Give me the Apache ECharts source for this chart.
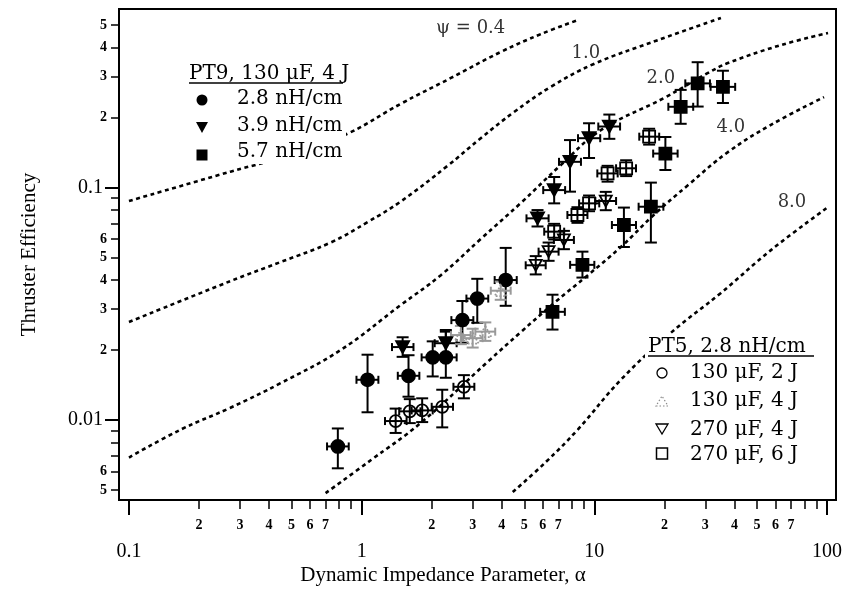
<!DOCTYPE html>
<html>
<head>
<meta charset="utf-8">
<script src="https://cdn.jsdelivr.net/npm/echarts@6/dist/echarts.min.js"></script>
<style>
html,body{margin:0;padding:0;background:#fff}
#main{width:850px;height:590px}
</style>
</head>
<body>
<div id="main"></div>
<script>
// axis ranges (log scales)
var xMin = 0.0906, xMax = 109.3;
var yMin = 0.00453, yMax = 0.586;

// tick values
var xMajor = [0.1, 1, 10, 100];
var xMinor = [0.2,0.3,0.4,0.5,0.6,0.7,0.8,0.9, 2,3,4,5,6,7,8,9, 20,30,40,50,60,70,80,90];
var xMinorLabels = [0.2,0.3,0.4,0.5,0.6,0.7, 2,3,4,5,6,7, 20,30,40,50,60,70];
var yMajor = [0.01, 0.1];
var yMinor = [0.005,0.006,0.007,0.008,0.009, 0.02,0.03,0.04,0.05,0.06,0.07,0.08,0.09, 0.2,0.3,0.4,0.5];
var yMinorLabels = [0.005,0.006, 0.02,0.03,0.04,0.05,0.06, 0.2,0.3,0.4,0.5];

// theoretical curves  [alpha, efficiency]
var psi04 = [[0.1,0.0875],[0.273,0.117],[0.547,0.142],[0.897,0.173],[1.47,0.229],[2.42,0.296],[3.96,0.383],[5.89,0.457],[8.49,0.525]];
var psi10 = [[0.1,0.0264],[0.273,0.0396],[0.448,0.0478],[0.736,0.0580],[1.06,0.0710],[1.47,0.0870],[2.34,0.124],[3.25,0.163],[4.51,0.211],[6.5,0.271],[9.95,0.340],[18.8,0.431],[35,0.536]];
var psi20 = [[0.1,0.0069],[0.167,0.0091],[0.273,0.0113],[0.448,0.0144],[0.812,0.020],[1.47,0.0312],[2.19,0.042],[3.25,0.0601],[4.83,0.0858],[7.18,0.125],[10.7,0.177],[19.9,0.2425],[30.8,0.311],[37.5,0.343],[63.4,0.41],[101,0.462]];
var psi40 = [[0.70,0.00485],[1.09,0.0067],[1.79,0.0097],[3.48,0.0178],[4.83,0.0239],[6.70,0.0318],[9.38,0.042],[13.0,0.0555],[18.0,0.0762],[25.3,0.1025],[37.5,0.142],[57.4,0.186],[97.1,0.245]];
var psi80 = [[4.46,0.0049],[6.19,0.0066],[8.49,0.0091],[13.0,0.0149],[21.3,0.0237],[35.0,0.0352],[57.4,0.0538],[101,0.0824]];
var psiLabels = [['\u03c8 = 0.4', 2.94, 0.485], ['1.0', 9.19, 0.379], ['2.0', 19.3, 0.296], ['4.0', 38.6, 0.182], ['8.0', 70.7, 0.0867]];

// measured points [alpha, eff, alphaLo, alphaHi, effLo, effHi]
var pt9_28 = [
  [0.79,0.0077, 0.71,0.88, 0.0062,0.0092],
  [1.06,0.0149, 0.95,1.18, 0.0108,0.0191],
  [1.59,0.0155, 1.43,1.77, 0.0126,0.0190],
  [2.02,0.0186, 1.81,2.25, 0.0154,0.0218],
  [2.30,0.0186, 2.06,2.56, 0.0152,0.0240],
  [2.71,0.0269, 2.43,3.02, 0.0215,0.0325],
  [3.14,0.0333, 2.82,3.50, 0.0262,0.0405],
  [4.16,0.0400, 3.73,4.64, 0.0310,0.0550]
];
var pt9_39 = [
  [1.50,0.0206, 1.35,1.67, 0.0187,0.0227],
  [2.30,0.0214, 2.06,2.56, 0.0190,0.0244],
  [5.70,0.0737, 5.11,6.36, 0.0680,0.0800],
  [6.72,0.0975, 6.03,7.49, 0.0855,0.1110],
  [7.86,0.129, 7.05,8.76, 0.096,0.160],
  [9.49,0.163, 8.51,10.6, 0.134,0.189],
  [11.6,0.183, 10.4,12.9, 0.162,0.206]
];
var pt9_57 = [
  [6.61,0.0292, 5.85,7.47, 0.0245,0.0346],
  [8.89,0.0465, 7.87,10.0, 0.041,0.053],
  [13.4,0.069, 11.9,15.1, 0.0555,0.082],
  [17.5,0.0827, 15.5,19.8, 0.058,0.105],
  [20.2,0.140, 17.9,22.8, 0.119,0.165],
  [23.5,0.2225, 20.8,26.6, 0.188,0.263],
  [27.8,0.2805, 24.6,31.4, 0.223,0.346],
  [35.7,0.271, 31.6,40.3, 0.231,0.318]
];
var pt5_130_2 = [
  [1.40,0.0099, 1.26,1.56, 0.0088,0.0112],
  [1.61,0.0109, 1.45,1.79, 0.0097,0.0123],
  [1.82,0.0110, 1.64,2.02, 0.0098,0.0124],
  [2.22,0.0114, 2.00,2.47, 0.0093,0.0135],
  [2.75,0.0139, 2.48,3.05, 0.0124,0.0156]
];
var pt5_130_4 = [
  [2.67,0.0232, 2.42,2.94, 0.0212,0.0254],
  [3.00,0.0225, 2.72,3.31, 0.0205,0.0247],
  [3.40,0.0240, 3.08,3.75, 0.0219,0.0263],
  [3.96,0.0360, 3.59,4.37, 0.0329,0.0394]
];
var pt5_270_4 = [
  [5.60,0.0463, 5.07,6.18, 0.0423,0.0507],
  [6.36,0.0530, 5.76,7.02, 0.0484,0.0580],
  [7.40,0.0595, 6.70,8.17, 0.0543,0.0651],
  [11.2,0.0875, 10.1,12.4, 0.0799,0.0958]
];
var pt5_270_6 = [
  [6.72,0.0646, 6.09,7.42, 0.0598,0.0698],
  [8.46,0.0762, 7.66,9.34, 0.0705,0.0823],
  [9.49,0.0855, 8.60,10.5, 0.0791,0.0924],
  [11.4,0.115, 10.3,12.6, 0.106,0.124],
  [13.7,0.121, 12.4,15.1, 0.112,0.131],
  [17.2,0.1655, 15.6,19.0, 0.153,0.179]
];

var serif = '"Liberation Serif", serif';
var wide = '"DejaVu Serif", serif';

function digitLabel(v) {
  var e = Math.floor(Math.log10(v) + 1e-9);
  return String(Math.round(v / Math.pow(10, e)));
}

function errBars(color) {
  return function (params, api) {
    var c = api.coord([api.value(0), api.value(1)]);
    var xl = api.coord([api.value(2), api.value(1)]);
    var xh = api.coord([api.value(3), api.value(1)]);
    var yl = api.coord([api.value(0), api.value(4)]);
    var yh = api.coord([api.value(0), api.value(5)]);
    var st = { stroke: color, lineWidth: 2 };
    var cw = 6, ch = 4;
    return {
      type: 'group',
      children: [
        { type: 'line', shape: { x1: c[0], y1: yl[1], x2: c[0], y2: yh[1] }, style: st },
        { type: 'line', shape: { x1: c[0] - cw, y1: yl[1], x2: c[0] + cw, y2: yl[1] }, style: st },
        { type: 'line', shape: { x1: c[0] - cw, y1: yh[1], x2: c[0] + cw, y2: yh[1] }, style: st },
        { type: 'line', shape: { x1: xl[0], y1: c[1], x2: xh[0], y2: c[1] }, style: st },
        { type: 'line', shape: { x1: xl[0], y1: c[1] - ch, x2: xl[0], y2: c[1] + ch }, style: st },
        { type: 'line', shape: { x1: xh[0], y1: c[1] - ch, x2: xh[0], y2: c[1] + ch }, style: st }
      ]
    };
  };
}

function errSeries(data, color) {
  return {
    type: 'custom', xAxisIndex: 0, yAxisIndex: 0, z: 3,
    renderItem: errBars(color),
    encode: { x: [0, 2, 3], y: [1, 4, 5] },
    data: data, silent: true
  };
}

function curve(data) {
  return {
    type: 'line', xAxisIndex: 0, yAxisIndex: 0, data: data, symbol: 'none', smooth: 0.4,
    lineStyle: { color: '#000', width: 2.6, type: [4, 3.5] }, z: 2, silent: true
  };
}

var triDown = 'path://M0,0 L10,0 L5,9 Z';

function pts(data, symbol, size, fill, border, dotted) {
  return {
    type: 'scatter', xAxisIndex: 0, yAxisIndex: 0, data: data.map(function (d) { return [d[0], d[1]]; }),
    symbol: symbol, symbolSize: size, z: 4, silent: true,
    itemStyle: { color: fill, borderColor: border, borderWidth: 1.8, borderType: dotted ? 'dotted' : 'solid', opacity: 1 }
  };
}

var myChart = echarts.init(document.getElementById('main'));

var axisCommonX = { type: 'log', logBase: 10, min: xMin, max: xMax, position: 'bottom', splitLine: { show: false }, axisLine: { show: false } };
var axisCommonY = { type: 'log', logBase: 10, min: yMin, max: yMax, position: 'left', splitLine: { show: false }, axisLine: { show: false } };

function txt(s, x, y, font) {
  return { type: 'text', x: x, y: y, z: 20, style: { text: s, font: font, fill: '#000', verticalAlign: 'middle' } };
}

var legFont = '20px ' + wide;
var graphics = [
  // white boxes behind the legends hide the curves
  { type: 'rect', z: 10, shape: { x: 186, y: 62, width: 160, height: 102 }, style: { fill: '#fff' } },
  { type: 'rect', z: 10, shape: { x: 645, y: 334, width: 172, height: 132 }, style: { fill: '#fff' } },
  // left legend
  txt('PT9, 130 \u03bcF, 4 J', 189, 74, legFont),
  { type: 'line', z: 20, shape: { x1: 189, y1: 83, x2: 343, y2: 83 }, style: { stroke: '#000', lineWidth: 1.3 } },
  { type: 'circle', z: 20, shape: { cx: 202, cy: 100, r: 5.5 }, style: { fill: '#000' } },
  { type: 'polygon', z: 20, shape: { points: [[196, 122], [208, 122], [202, 133]] }, style: { fill: '#000' } },
  { type: 'rect', z: 20, shape: { x: 196.5, y: 149.5, width: 11, height: 11 }, style: { fill: '#000' } },
  txt('2.8 nH/cm', 237, 99, legFont),
  txt('3.9 nH/cm', 237, 126, legFont),
  txt('5.7 nH/cm', 237, 152, legFont),
  // right legend
  txt('PT5, 2.8 nH/cm', 648, 347, legFont),
  { type: 'line', z: 20, shape: { x1: 648, y1: 356, x2: 814, y2: 356 }, style: { stroke: '#000', lineWidth: 1.3 } },
  { type: 'circle', z: 20, shape: { cx: 662, cy: 373, r: 5 }, style: { fill: 'none', stroke: '#000', lineWidth: 1.3 } },
  { type: 'polygon', z: 20, shape: { points: [[656, 406], [668, 406], [662, 396]] }, style: { fill: 'none', stroke: '#888', lineWidth: 1.2, lineDash: [1.5, 2] } },
  { type: 'polygon', z: 20, shape: { points: [[656, 424], [668, 424], [662, 434]] }, style: { fill: 'none', stroke: '#000', lineWidth: 1.3 } },
  { type: 'rect', z: 20, shape: { x: 656.5, y: 448, width: 11, height: 11 }, style: { fill: 'none', stroke: '#000', lineWidth: 1.5 } },
  txt('130 \u03bcF, 2 J', 690, 373, legFont),
  txt('130 \u03bcF, 4 J', 690, 401, legFont),
  txt('270 \u03bcF, 4 J', 690, 430, legFont),
  txt('270 \u03bcF, 6 J', 690, 455, legFont),
  // x axis title
  { type: 'text', x: 443, y: 575, style: { text: 'Dynamic Impedance Parameter, \u03b1', font: '21px ' + serif, fill: '#000', align: 'center', verticalAlign: 'middle' } }
];

var option = {
  backgroundColor: '#fff',
  animation: false,
  grid: { left: 119, right: 14, top: 9, bottom: 90, show: true, borderColor: '#000', borderWidth: 2, backgroundColor: 'transparent' },
  xAxis: [
    Object.assign({}, axisCommonX, {
      axisTick: { show: true, customValues: xMinor, length: 9, lineStyle: { color: '#000', width: 1.5 } },
      axisLabel: { customValues: xMinorLabels, formatter: digitLabel, fontFamily: serif, fontSize: 14, fontWeight: 'bold', color: '#000', margin: 18 }
    }),
    Object.assign({}, axisCommonX, {
      axisTick: { show: true, customValues: xMajor, length: 15, lineStyle: { color: '#000', width: 2 } },
      axisLabel: { customValues: xMajor, formatter: function (v) { return String(v); }, fontFamily: serif, fontSize: 20, color: '#000', margin: 42 }
    })
  ],
  yAxis: [
    Object.assign({}, axisCommonY, {
      name: 'Thruster Efficiency', nameLocation: 'middle', nameGap: 79, nameRotate: 90,
      nameTextStyle: { fontFamily: serif, fontSize: 21, color: '#000' },
      axisTick: { show: true, customValues: yMinor, length: 8, lineStyle: { color: '#000', width: 1.5 } },
      axisLabel: { customValues: yMinorLabels, formatter: digitLabel, fontFamily: serif, fontSize: 14, fontWeight: 'bold', color: '#000', margin: 12 }
    }),
    Object.assign({}, axisCommonY, {
      axisTick: { show: true, customValues: yMajor, length: 14, lineStyle: { color: '#000', width: 2 } },
      axisLabel: { customValues: yMajor, formatter: function (v) { return String(v); }, fontFamily: serif, fontSize: 20, color: '#000', margin: 16 }
    })
  ],
  graphic: graphics,
  series: [
    curve(psi04), curve(psi10), curve(psi20), curve(psi40), curve(psi80),
    {
      type: 'scatter', data: psiLabels.map(function (d) { return { name: d[0], value: [d[1], d[2]] }; }),
      symbolSize: 0, silent: true, z: 5,
      label: { show: true, position: 'inside', formatter: '{b}', fontFamily: wide, fontSize: 18, color: '#000' }
    },
    errSeries(pt9_28, '#000'), errSeries(pt9_39, '#000'), errSeries(pt9_57, '#000'),
    errSeries(pt5_130_2, '#000'), errSeries(pt5_130_4, '#999'), errSeries(pt5_270_4, '#000'), errSeries(pt5_270_6, '#000'),
    pts(pt9_28, 'circle', 13, '#000', '#000'),
    pts(pt9_39, triDown, [13, 12], '#000', '#000'),
    pts(pt9_57, 'rect', 12, '#000', '#000'),
    pts(pt5_130_2, 'circle', 12, 'rgba(0,0,0,0)', '#000'),
    pts(pt5_130_4, 'triangle', [12, 11], 'rgba(0,0,0,0)', '#999', true),
    pts(pt5_270_4, triDown, [12, 11], 'rgba(0,0,0,0)', '#000'),
    pts(pt5_270_6, 'rect', 12, 'rgba(0,0,0,0)', '#000')
  ]
};

myChart.setOption(option);
</script>
</body>
</html>
